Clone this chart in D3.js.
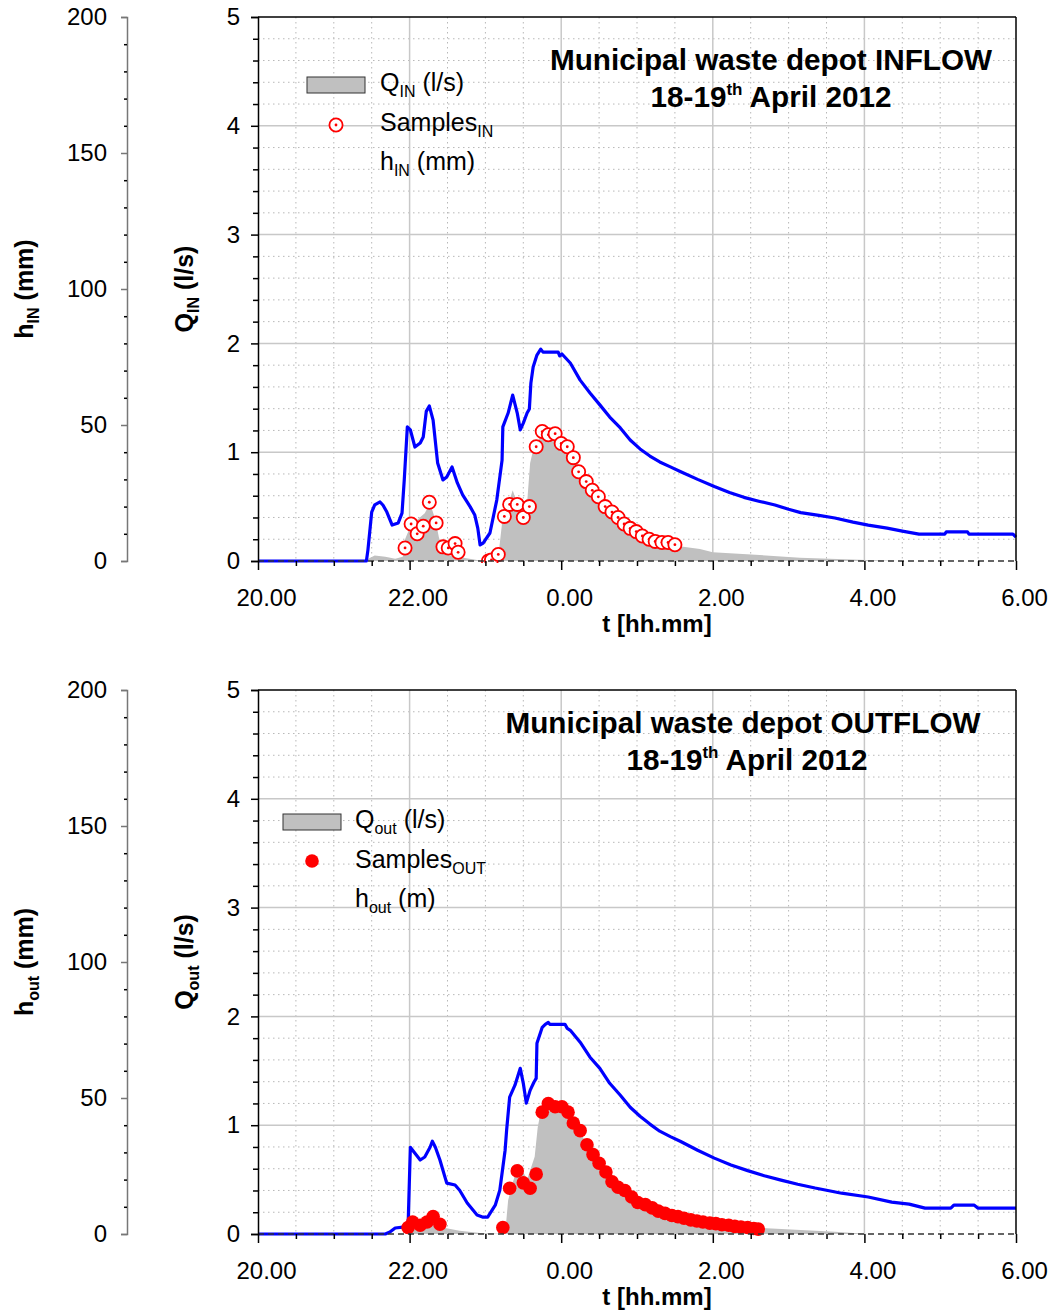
<!DOCTYPE html>
<html><head><meta charset="utf-8">
<script src="https://cdn.jsdelivr.net/npm/d3@7"></script>
<style>
body{margin:0;background:#fff}
svg{display:block;font-family:"Liberation Sans",Arial,sans-serif}
</style>
</head><body>
<svg id="c" width="1053" height="1310"></svg>
<script>
// ---------- axes / ticks ----------
const xTickValues = [20, 22, 24, 26, 28, 30];
const xTickLabels = ["20.00", "22.00", "0.00", "2.00", "4.00", "6.00"];
const qTicks = [0, 1, 2, 3, 4, 5];
const hTicks = [0, 50, 100, 150, 200];

// ---------- INFLOW (t in clock hours, >24 = next day) ----------
const qIn = [[20,0],[21.41,0],[21.48,0.03],[21.54,0.05],[21.68,0.04],[21.81,0.02],[21.91,0.04],[21.94,0.2],
 [22.0,0.3],[22.10,0.38],[22.20,0.44],[22.27,0.53],[22.34,0.38],[22.40,0.17],[22.47,0.06],[22.63,0.04],
 [22.89,0.01],[22.97,0],[23.13,0.0],[23.17,0.04],[23.22,0.35],[23.28,0.47],[23.36,0.65],[23.43,0.51],
 [23.55,0.53],[23.59,0.9],[23.63,1.02],[23.72,1.13],[23.85,1.16],[23.94,1.14],[24.08,1.05],[24.29,0.81],
 [24.51,0.59],[24.74,0.42],[24.95,0.30],[25.17,0.22],[25.40,0.17],[25.61,0.13],[25.83,0.11],[26.0,0.08],
 [26.62,0.055],[27.15,0.03],[28.03,0.01],[28.47,0],[30,0]];
const hIn = [[20,0],[21.43,0],[21.45,4],[21.5,18],[21.54,20.6],[21.61,21.7],[21.65,20.5],[21.70,18.0],
 [21.77,13.2],[21.85,14.0],[21.90,17.6],[21.93,30],[21.97,49.3],[22.01,48.2],[22.07,41.9],[22.14,43.4],
 [22.18,45.6],[22.22,55],[22.26,57.0],[22.31,51.8],[22.37,36.0],[22.44,29.8],[22.49,30.9],[22.56,34.6],
 [22.63,28.7],[22.70,24.3],[22.80,19.9],[22.86,16.9],[22.90,12],[22.93,5.9],[22.97,6.6],[23.06,10.3],
 [23.15,22.4],[23.22,37.1],[23.23,49.3],[23.30,54.4],[23.36,61.0],[23.42,54.4],[23.46,48.2],[23.50,50.7],
 [23.55,54.4],[23.58,55.9],[23.60,65.4],[23.63,71.3],[23.68,75.7],[23.73,77.9],[23.76,76.8],[23.96,76.8],
 [23.98,75.4],[24.01,76.1],[24.12,72.8],[24.25,66.5],[24.38,61.8],[24.51,57.4],[24.64,52.9],[24.78,48.9],
 [24.91,44.5],[25.04,41.2],[25.17,38.6],[25.30,36.4],[25.44,34.6],[25.57,32.9],[25.80,30.0],[26.02,27.4],
 [26.22,25.2],[26.41,23.4],[26.62,21.9],[26.82,20.6],[27.0,19.0],[27.16,17.8],[27.40,16.8],[27.61,15.8],
 [27.85,14.3],[28.05,13.2],[28.30,12.1],[28.50,11.0],[28.72,9.9],[29.06,9.9],[29.08,10.7],[29.36,10.7],
 [29.38,9.9],[29.96,9.9],[30.0,8.8]];
const samplesIn = [[21.94,0.12],[22.02,0.34],[22.10,0.25],[22.18,0.32],[22.26,0.54],[22.35,0.35],[22.44,0.13],
 [22.51,0.12],[22.60,0.16],[22.64,0.08],[23.04,0.0],[23.08,0.01],[23.17,0.06],[23.25,0.41],[23.32,0.52],
 [23.42,0.52],[23.50,0.40],[23.58,0.50],[23.67,1.05],[23.75,1.19],[23.83,1.16],[23.92,1.17],[24.00,1.08],
 [24.08,1.05],[24.16,0.95],[24.23,0.82],[24.33,0.73],[24.41,0.65],[24.49,0.59],[24.58,0.50],[24.67,0.45],
 [24.75,0.40],[24.83,0.34],[24.91,0.30],[24.99,0.27],[25.07,0.23],[25.16,0.20],[25.24,0.18],[25.33,0.17],
 [25.41,0.17],[25.50,0.15]];

// ---------- OUTFLOW ----------
const qOut = [[20,0],[21.94,0],[22.01,0.05],[22.14,0.06],[22.31,0.11],[22.47,0.055],[22.66,0.03],[22.93,0.01],
 [23.26,0],[23.30,0.31],[23.36,0.47],[23.44,0.65],[23.55,0.50],[23.65,0.71],[23.69,0.98],[23.72,1.09],
 [23.81,1.18],[23.98,1.18],[24.12,1.07],[24.25,0.93],[24.47,0.68],[24.68,0.50],[24.91,0.36],[25.13,0.25],
 [25.34,0.19],[25.57,0.15],[26.02,0.10],[26.64,0.055],[27.61,0.02],[28.05,0],[30,0]];
const hOut = [[20,0],[21.68,0],[21.74,0.7],[21.81,2.2],[21.94,2.6],[21.98,2.9],[22.01,31.9],[22.04,30.8],
 [22.14,27.2],[22.20,28.3],[22.27,31.9],[22.30,34.1],[22.34,31.9],[22.40,27.2],[22.49,18.7],[22.60,18.0],
 [22.66,16.1],[22.76,11.4],[22.89,7.0],[22.97,6.2],[23.03,6.2],[23.13,10.6],[23.19,16.1],[23.26,30.8],
 [23.28,38.2],[23.32,50.3],[23.39,54.7],[23.46,60.9],[23.50,55.4],[23.54,48.1],[23.59,52.8],[23.64,55.8],
 [23.67,57.2],[23.68,70.1],[23.75,76.0],[23.79,77.1],[23.83,77.8],[23.85,77.1],[24.05,77.1],[24.08,75.6],
 [24.12,74.9],[24.25,70.5],[24.38,65.0],[24.51,60.9],[24.64,55.4],[24.78,51.0],[24.91,46.6],[25.04,43.3],
 [25.17,40.4],[25.30,37.8],[25.44,35.8],[25.57,34.1],[25.80,30.8],[26.02,27.9],[26.24,25.4],[26.46,23.3],
 [26.68,21.4],[26.90,19.8],[27.12,18.3],[27.35,16.9],[27.70,15.0],[28.05,13.6],[28.36,11.7],[28.59,11.0],
 [28.80,9.5],[29.14,9.5],[29.18,10.6],[29.45,10.6],[29.50,9.5],[30.0,9.5]];
const samplesOut = [[21.98,0.06],[22.04,0.11],[22.14,0.08],[22.23,0.11],[22.31,0.16],[22.40,0.09],
 [23.23,0.06],[23.32,0.42],[23.42,0.58],[23.50,0.47],[23.59,0.42],[23.67,0.55],[23.75,1.12],[23.83,1.20],
 [23.92,1.17],[24.01,1.17],[24.09,1.12],[24.16,1.02],[24.25,0.95],[24.34,0.82],[24.42,0.73],[24.50,0.65],
 [24.59,0.57],[24.67,0.48],[24.75,0.43],[24.84,0.40],[24.93,0.34],[25.01,0.29],[25.11,0.27],[25.20,0.24],
 [25.28,0.21],[25.37,0.19],[25.46,0.17],[25.54,0.16],[25.62,0.145],[25.71,0.13],[25.79,0.12],[25.87,0.11],
 [25.96,0.10],[26.04,0.095],[26.12,0.085],[26.21,0.08],[26.29,0.07],[26.37,0.065],[26.46,0.06],[26.54,0.05],
 [26.60,0.045]];

const svg = d3.select("#c");
const FS = 24;

function subText(sel, parts){
  parts.forEach(p=>{
    const t = sel.append("tspan").text(p[0]);
    if(p[1]){ t.attr("font-size",16).attr("dy",6); }
    else if(p[2]){ t.attr("font-size",17).attr("dy",-12); }
    else { t.attr("dy", p[3]||0); }
  });
}

function panel(o){
  const g = svg.append("g");
  const X0 = 258, X1 = 1016;
  const x = d3.scaleLinear().domain([20,30]).range([X0,X1]);
  const y = d3.scaleLinear().domain([0,5]).range([o.y1,o.y0]);
  const yh = d3.scaleLinear().domain([0,200]).range([o.y1,o.y0]);

  const minorT = d3.range(20.5,30,0.5).filter(v=>!xTickValues.includes(v));
  const minorQ = d3.range(0.2,5,0.2).map(v=>+v.toFixed(1)).filter(v=>Math.abs(v-Math.round(v))>0.01);
  g.selectAll(".mgx").data(minorT).join("line")
    .attr("x1",d=>x(d)).attr("x2",d=>x(d)).attr("y1",o.y0).attr("y2",o.y1)
    .attr("stroke","#b8b8b8").attr("stroke-width",1).attr("stroke-dasharray","1.5,3.5");
  g.selectAll(".mgy").data(minorQ).join("line")
    .attr("x1",X0).attr("x2",X1).attr("y1",d=>y(d)).attr("y2",d=>y(d))
    .attr("stroke","#b8b8b8").attr("stroke-width",1).attr("stroke-dasharray","1.5,3.5");
  g.selectAll(".Mgx").data(xTickValues.slice(1,-1)).join("line")
    .attr("x1",d=>x(d)).attr("x2",d=>x(d)).attr("y1",o.y0).attr("y2",o.y1)
    .attr("stroke","#c8c8c8").attr("stroke-width",1.5);
  g.selectAll(".Mgy").data(qTicks.slice(1,-1)).join("line")
    .attr("x1",X0).attr("x2",X1).attr("y1",d=>y(d)).attr("y2",d=>y(d))
    .attr("stroke","#c8c8c8").attr("stroke-width",1.5);

  const clipId = "clip"+o.id;
  svg.append("clipPath").attr("id",clipId).append("rect")
    .attr("x",X0).attr("y",o.y0-2).attr("width",X1-X0+2).attr("height",o.y1-o.y0+4);
  const d = g.append("g").attr("clip-path",`url(#${clipId})`);

  d.append("path").datum(o.q)
    .attr("d", d3.area().x(p=>x(p[0])).y0(y(0)).y1(p=>y(p[1])))
    .attr("fill","#c0c0c0");

  g.append("line").attr("x1",X0).attr("x2",X1).attr("y1",o.y1).attr("y2",o.y1)
    .attr("stroke","#333").attr("stroke-width",1.5).attr("stroke-dasharray","6,4");

  d.append("path").datum(o.h)
    .attr("d", d3.line().x(p=>x(p[0])).y(p=>yh(p[1])))
    .attr("fill","none").attr("stroke","#0000ff").attr("stroke-width",3.2).attr("stroke-linejoin","round");

  if(o.hollow){
    const s = d.selectAll(".s").data(o.s).join("g").attr("transform",p=>`translate(${x(p[0])},${y(p[1])})`);
    s.append("circle").attr("r",6.6).attr("fill","#fff").attr("stroke","#ff0000").attr("stroke-width",1.8);
    s.append("circle").attr("r",1.4).attr("fill","#ff0000");
  } else {
    d.selectAll(".s").data(o.s).join("circle")
      .attr("cx",p=>x(p[0])).attr("cy",p=>y(p[1])).attr("r",6.8).attr("fill","#ff0000");
  }

  g.append("line").attr("x1",X0).attr("x2",X1).attr("y1",o.y0).attr("y2",o.y0).attr("stroke","#000").attr("stroke-width",1.5);
  g.append("line").attr("x1",X1).attr("x2",X1).attr("y1",o.y0).attr("y2",o.y1).attr("stroke","#000").attr("stroke-width",1.5);

  const qa = g.append("g").attr("transform",`translate(${X0},0)`)
    .call(d3.axisLeft(y).tickValues(qTicks).tickSize(7).tickPadding(11).tickFormat(d3.format("d")));
  g.append("g").attr("transform",`translate(${X0},0)`)
    .call(d3.axisLeft(y).tickValues(minorQ).tickSize(5).tickFormat(""))
    .call(a=>a.select(".domain").remove());
  const ha = g.append("g").attr("transform",`translate(127,0)`)
    .call(d3.axisLeft(yh).tickValues(hTicks).tickSize(6).tickPadding(14).tickFormat(d3.format("d")));
  g.append("g").attr("transform",`translate(127,0)`)
    .call(d3.axisLeft(yh).tickValues(d3.range(10,200,10).filter(v=>v%50)).tickSize(3).tickFormat(""))
    .call(a=>a.select(".domain").remove());
  const xa = g.append("g").attr("transform",`translate(0,${o.y1})`)
    .call(d3.axisBottom(x).tickValues(xTickValues).tickSize(9).tickPadding(19).tickFormat((v,i)=>xTickLabels[i]));
  xa.select(".domain").remove();
  xa.selectAll("text").attr("dx",8);
  g.append("g").attr("transform",`translate(0,${o.y1})`)
    .call(d3.axisBottom(x).tickValues(minorT).tickSize(5).tickFormat(""))
    .call(a=>a.select(".domain").remove());

  [qa,ha,xa].forEach(a=>{
    a.selectAll("text").attr("font-size",FS).attr("font-family","Liberation Sans, Arial, sans-serif").attr("fill","#000");
  });
  qa.selectAll("line,path").attr("stroke","#000").attr("stroke-width",1.5);
  ha.selectAll("line,path").attr("stroke","#777").attr("stroke-width",1.5);
  xa.selectAll("line").attr("stroke","#000").attr("stroke-width",1.5);
  g.selectAll(".tick line").attr("stroke-width",1.5);

  const mid = (o.y0+o.y1)/2;
  const t1 = g.append("text").attr("transform",`translate(33,${mid}) rotate(-90)`)
    .attr("text-anchor","middle").attr("font-weight","bold").attr("font-size",25);
  subText(t1, [["h"],[o.sub,true],[" (mm)",false,false,-6]]);
  const t2 = g.append("text").attr("transform",`translate(193,${mid}) rotate(-90)`)
    .attr("text-anchor","middle").attr("font-weight","bold").attr("font-size",25);
  subText(t2, [["Q"],[o.sub,true],[" (l/s)",false,false,-6]]);
  g.append("text").attr("x",657).attr("y",o.y1+71).attr("text-anchor","middle")
    .attr("font-weight","bold").attr("font-size",FS).text("t [hh.mm]");

  g.append("text").attr("x",o.tx).attr("y",o.ty).attr("text-anchor","middle")
    .attr("font-weight","bold").attr("font-size",29.7).text(o.title);
  const t3 = g.append("text").attr("x",o.tx2).attr("y",o.ty+37).attr("text-anchor","middle")
    .attr("font-weight","bold").attr("font-size",29.7);
  subText(t3, [["18-19"],["th",false,true],[" April 2012",false,false,12]]);

  const L = o.leg;
  g.append("rect").attr("x",L.x).attr("y",L.y).attr("width",58).attr("height",16)
    .attr("fill","#c0c0c0").attr("stroke","#333").attr("stroke-width",1);
  if(o.hollow){
    g.append("circle").attr("cx",L.x+29).attr("cy",L.y+48).attr("r",6.6).attr("fill","#fff").attr("stroke","#ff0000").attr("stroke-width",1.8);
    g.append("circle").attr("cx",L.x+29).attr("cy",L.y+48).attr("r",1.4).attr("fill","#ff0000");
  } else {
    g.append("circle").attr("cx",L.x+29).attr("cy",L.y+47).attr("r",6.8).attr("fill","#ff0000");
  }
  const lt = [[["Q"],[o.lsubQ,true],[" (l/s)",false,false,-6]],
              [["Samples"],[o.lsubS,true]],
              [["h"],[o.lsubH,true],[o.hUnit,false,false,-6]]];
  lt.forEach((parts,i)=>{
    const t = g.append("text").attr("x",L.tx).attr("y",L.y+14+i*39.5).attr("font-size",25);
    subText(t, parts);
  });
}

panel({id:1, y0:17, y1:561, q:qIn, h:hIn, s:samplesIn, hollow:true, sub:"IN",
  title:"Municipal waste depot INFLOW", tx:771, tx2:771, ty:70,
  leg:{x:307, y:77, tx:380}, lsubQ:"IN", lsubS:"IN", lsubH:"IN", hUnit:" (mm)"});
panel({id:2, y0:690, y1:1234, q:qOut, h:hOut, s:samplesOut, hollow:false, sub:"out",
  title:"Municipal waste depot OUTFLOW", tx:743, tx2:747, ty:733,
  leg:{x:283, y:814, tx:355}, lsubQ:"out", lsubS:"OUT", lsubH:"out", hUnit:" (m)"});
</script>
</body></html>
